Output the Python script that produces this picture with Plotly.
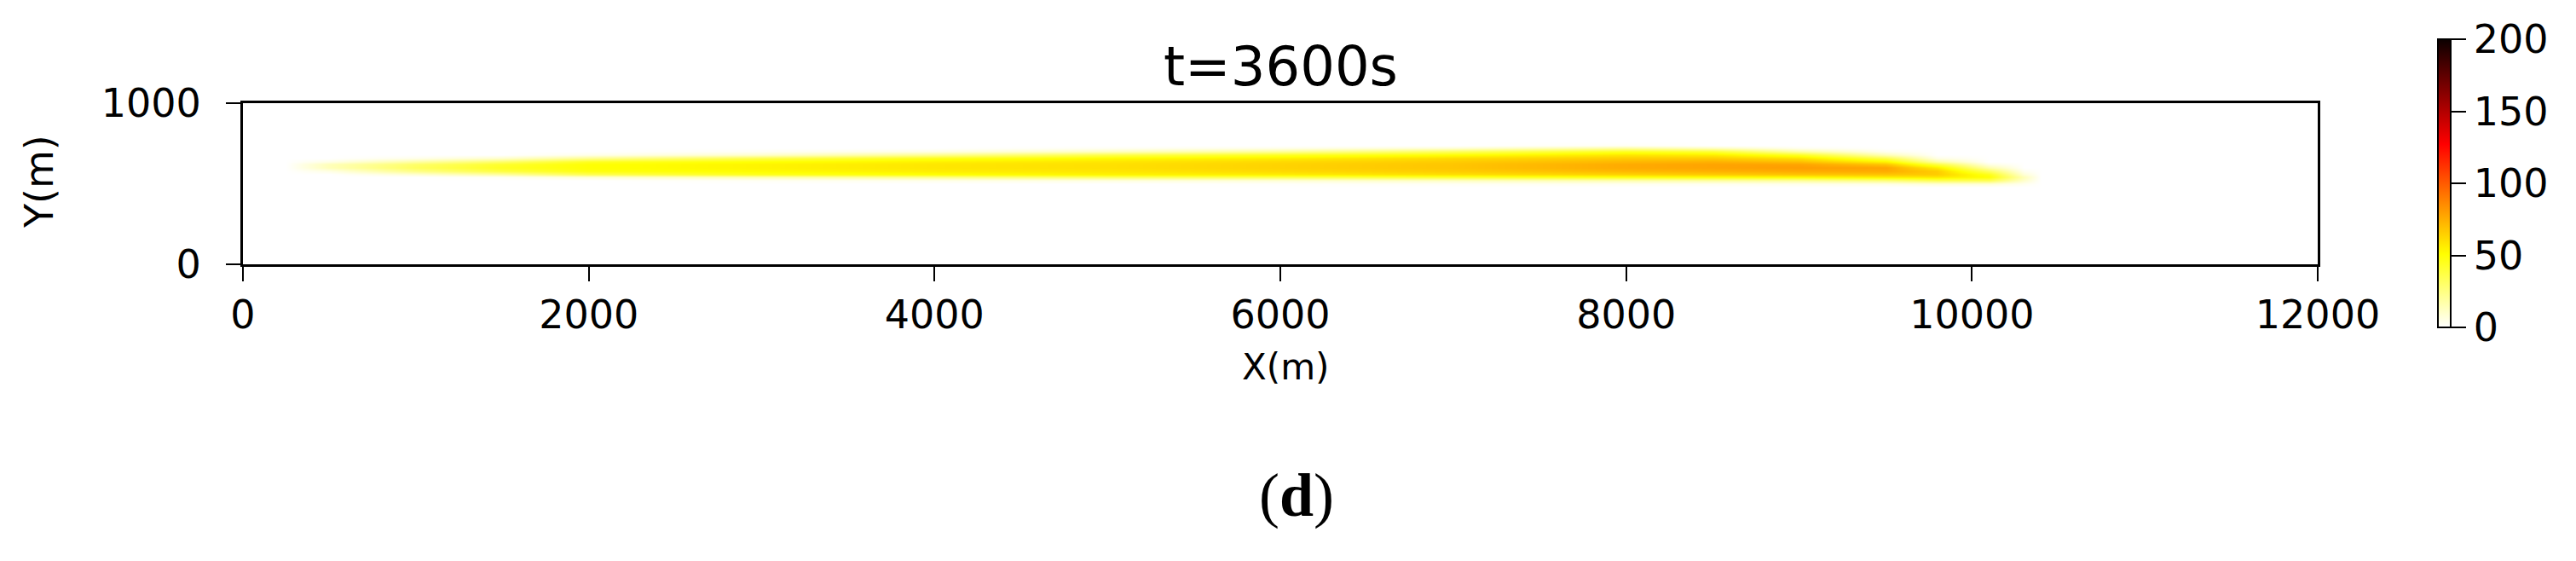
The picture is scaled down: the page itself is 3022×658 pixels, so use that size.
import numpy as np
import plotly.graph_objects as go

# plume concentration (t = 3600 s)
# each profile: concentration at the y levels below, one list per x station
y_levels = [480, 500, 520, 540, 560, 580, 600, 620, 640, 660, 680, 700, 720, 740, 760]
x_stations = [250, 500, 1000, 1500, 2000, 3000, 4000, 5000, 6000, 7000,
              8000, 8500, 9000, 9500, 9800, 10100, 10300, 10400]

p_0250 = [0, 0, 0, 0, 0, 0, 0, 0, 0, 0, 0, 0, 0, 0, 0]
p_0500 = [0, 0, 0, 0, 0, 5, 14, 14, 5, 0, 0, 0, 0, 0, 0]
p_1000 = [0, 0, 0, 0, 8, 24, 32, 30, 18, 4, 0, 0, 0, 0, 0]
p_1500 = [0, 0, 0, 2, 18, 38, 44, 42, 30, 10, 0, 0, 0, 0, 0]
p_2000 = [0, 0, 0, 8, 34, 48, 50, 50, 44, 22, 4, 0, 0, 0, 0]
p_3000 = [0, 0, 2, 16, 45, 52, 54, 54, 50, 36, 10, 2, 0, 0, 0]
p_4000 = [0, 0, 4, 24, 50, 56, 58, 58, 55, 46, 22, 5, 0, 0, 0]
p_5000 = [0, 0, 6, 32, 54, 58, 60, 60, 58, 52, 36, 12, 2, 0, 0]
p_6000 = [0, 1, 8, 36, 56, 62, 64, 64, 62, 56, 44, 20, 4, 0, 0]
p_7000 = [0, 2, 12, 42, 60, 66, 68, 68, 66, 62, 50, 32, 8, 0, 0]
p_8000 = [0, 3, 16, 48, 64, 72, 76, 76, 72, 66, 58, 44, 18, 2, 0]
p_8500 = [0, 3, 18, 50, 66, 74, 78, 78, 74, 66, 56, 40, 12, 0, 0]
p_9000 = [0, 4, 20, 52, 68, 76, 80, 78, 70, 60, 44, 18, 3, 0, 0]
p_9500 = [0, 5, 26, 56, 68, 76, 78, 68, 54, 36, 14, 3, 0, 0, 0]
p_9800 = [0, 8, 34, 58, 66, 66, 56, 38, 18, 5, 0, 0, 0, 0, 0]
p_10100 = [0, 8, 34, 50, 46, 32, 16, 5, 0, 0, 0, 0, 0, 0, 0]
p_10300 = [0, 3, 10, 14, 8, 3, 0, 0, 0, 0, 0, 0, 0, 0, 0]
p_10400 = [0, 0, 0, 0, 0, 0, 0, 0, 0, 0, 0, 0, 0, 0, 0]

profiles = [p_0250, p_0500, p_1000, p_1500, p_2000, p_3000, p_4000, p_5000, p_6000,
            p_7000, p_8000, p_8500, p_9000, p_9500, p_9800, p_10100, p_10300, p_10400]

x_ticks = [0, 2000, 4000, 6000, 8000, 10000, 12000]
y_ticks = [0, 1000]
cbar_ticks = [0, 50, 100, 150, 200]

# matplotlib "hot_r"
hot_r = [
    [0.0, 'rgb(255,255,255)'],
    [0.254, 'rgb(255,255,0)'],
    [0.635, 'rgb(255,0,0)'],
    [1.0, 'rgb(11,0,0)'],
]

z = np.column_stack(profiles)

W, H = 3022, 658
L, R, T, B = 277, 3022 - 2711, 113, 658 - 302
plot_w = W - L - R
plot_h = H - T - B


def px_x(px):
    return (px - L) / plot_w


def px_y(py):
    return (H - B - py) / plot_h


fig = go.Figure()
fig.add_trace(go.Heatmap(
    x=x_stations, y=y_levels, z=z,
    zsmooth='best', zmin=0, zmax=200,
    colorscale=hot_r,
    hoverinfo='skip',
    colorbar=dict(
        x=px_x(2852), xanchor='left', xpad=0,
        y=px_y(207), yanchor='middle', ypad=0,
        len=338 / plot_h, lenmode='fraction',
        thickness=15,
        outlinewidth=2, outlinecolor='black',
        tickvals=cbar_ticks, ticks='outside', ticklen=17, tickwidth=2,
        tickcolor='black',
        tickfont=dict(family='DejaVu Sans', size=46, color='black'),
    ),
))

axis_style = dict(
    showline=True, linewidth=3, linecolor='black', mirror=True,
    ticks='outside', ticklen=17, tickwidth=2, tickcolor='black',
    showgrid=False, zeroline=False,
    tickfont=dict(family='DejaVu Sans', size=46, color='black'),
)

fig.update_xaxes(range=[0, 12000], tickvals=x_ticks,
                 ticktext=[str(v) for v in x_ticks], **axis_style)
fig.update_yaxes(range=[0, 1000], tickvals=y_ticks,
                 ticktext=[str(v) for v in y_ticks],
                 ticklabelstandoff=20, **axis_style)

fig.add_annotation(text='X(m)', xref='paper', yref='paper',
                   x=px_x(1500), y=px_y(422), showarrow=False,
                   xanchor='center', yanchor='middle',
                   font=dict(family='DejaVu Sans', size=42, color='black'))
fig.add_annotation(text='Y(m)', xref='paper', yref='paper', textangle=-90,
                   x=px_x(38), y=px_y(205), showarrow=False,
                   xanchor='center', yanchor='middle',
                   font=dict(family='DejaVu Sans', size=46, color='black'))
fig.add_annotation(text='t=3600s', xref='paper', yref='paper',
                   x=0.5, y=px_y(70), showarrow=False,
                   xanchor='center', yanchor='middle',
                   font=dict(family='DejaVu Sans', size=64, color='black'))
fig.add_annotation(text='(<b>d</b>)', xref='paper', yref='paper',
                   x=px_x(1513), y=px_y(573), showarrow=False,
                   xanchor='center', yanchor='middle',
                   font=dict(family='Liberation Serif', size=72, color='black'))

fig.update_layout(
    width=W, height=H,
    margin=dict(l=L, r=R, t=T, b=B),
    paper_bgcolor='white', plot_bgcolor='white',
    showlegend=False,
)

fig.write_html("out.html", config={'displayModeBar': False})
